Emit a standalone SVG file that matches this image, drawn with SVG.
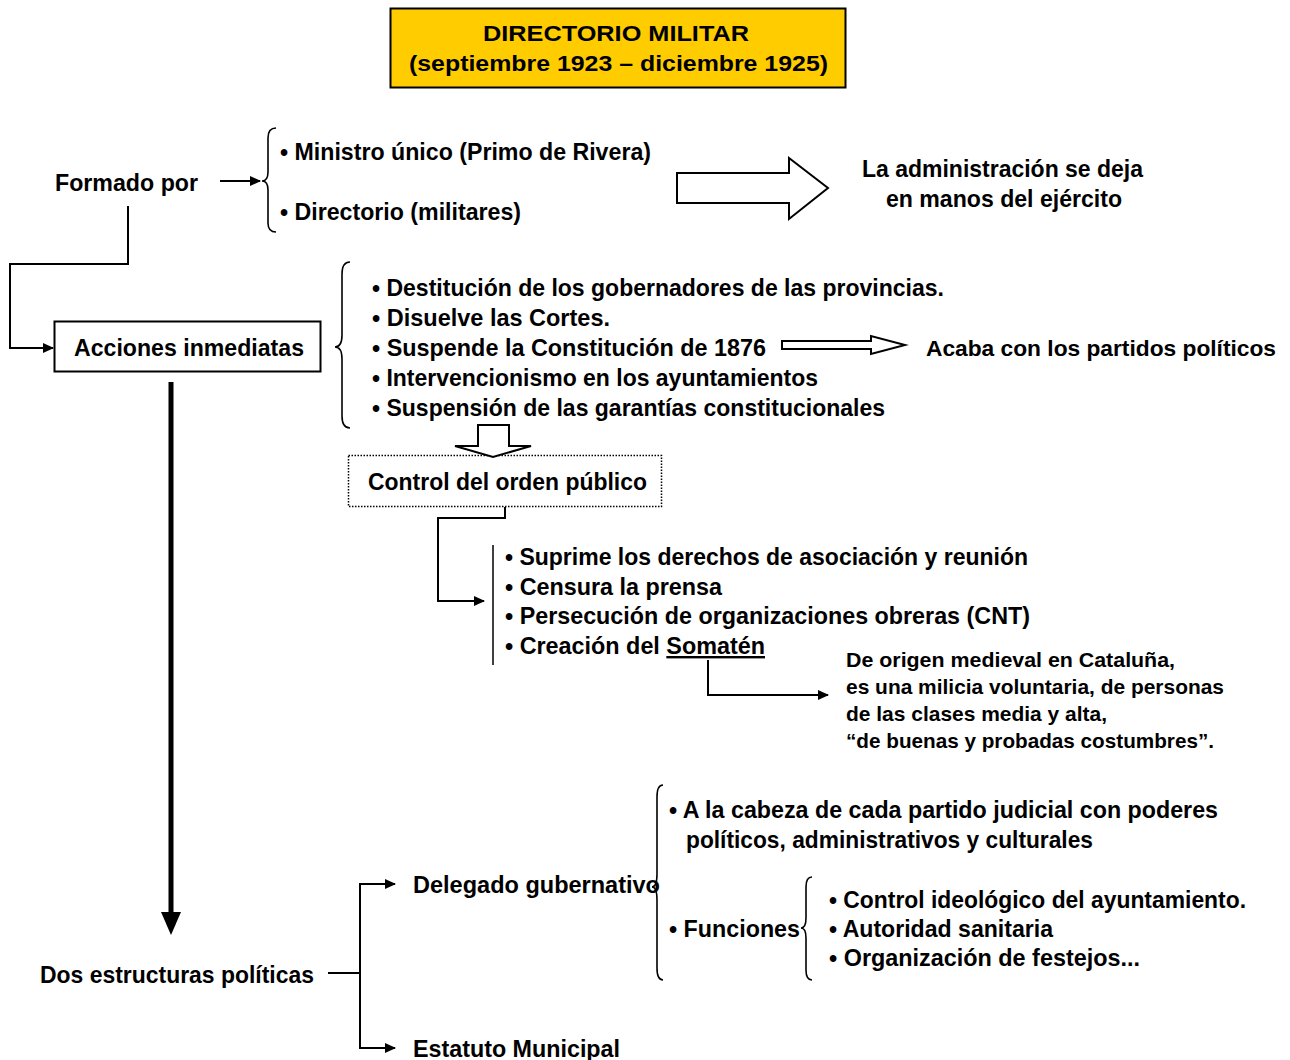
<svg xmlns="http://www.w3.org/2000/svg" width="1290" height="1060" viewBox="0 0 1290 1060">
<style>
text{font-family:"Liberation Sans",Arial,sans-serif;font-weight:bold;fill:#000}
.t{font-size:24px}
.s{font-size:21px}
.h{font-size:22px}
.ln{fill:none;stroke:#000;stroke-width:2}
.br{fill:none;stroke:#000;stroke-width:1.6}
.blk{fill:#fff;stroke:#000;stroke-width:2;stroke-linejoin:miter}
</style>
<defs>
<marker id="ah" markerUnits="userSpaceOnUse" markerWidth="12" markerHeight="12" refX="10" refY="6" orient="auto">
<path d="M0,1 L11,6 L0,11 Z" fill="#000"/>
</marker>
</defs>
<rect width="1290" height="1060" fill="#fff"/>

<g id="title">
<rect x="390.5" y="8.5" width="455" height="79" fill="#FFCC00" stroke="#000" stroke-width="2"/>
<text class="h" x="483" y="41" textLength="266" lengthAdjust="spacingAndGlyphs">DIRECTORIO MILITAR</text>
<text class="h" x="409" y="71" textLength="419" lengthAdjust="spacingAndGlyphs">(septiembre 1923 – diciembre 1925)</text>
</g>

<g id="formado">
<text class="t" x="55" y="191" textLength="143" lengthAdjust="spacingAndGlyphs">Formado por</text>
</g>

<g id="formado-items">
<path class="br" d="M276,128 Q268,128 268,138 L268,172 Q268,181 262,181 Q268,181 268,190 L268,223 Q268,232 276,232"/>
<text class="t" x="280" y="160" textLength="371" lengthAdjust="spacingAndGlyphs">• Ministro único (Primo de Rivera)</text>
<text class="t" x="280" y="220" textLength="241" lengthAdjust="spacingAndGlyphs">• Directorio (militares)</text>
</g>

<g id="administracion">
<text class="t" x="862" y="177" textLength="281" lengthAdjust="spacingAndGlyphs">La administración se deja</text>
<text class="t" x="886" y="207" textLength="236" lengthAdjust="spacingAndGlyphs">en manos del ejército</text>
</g>

<g id="acciones">
<rect x="54.5" y="321.5" width="266" height="50" fill="#fff" stroke="#000" stroke-width="2"/>
<text class="t" x="74" y="356" textLength="230" lengthAdjust="spacingAndGlyphs">Acciones inmediatas</text>
</g>

<g id="acciones-items">
<path class="br" d="M350,262 Q342,262 342,274 L342,335 Q342,347 335,347 Q342,347 342,359 L342,416 Q342,428 350,428"/>
<text class="t" x="372" y="296" textLength="572" lengthAdjust="spacingAndGlyphs">• Destitución de los gobernadores de las provincias.</text>
<text class="t" x="372" y="326" textLength="238" lengthAdjust="spacingAndGlyphs">• Disuelve las Cortes.</text>
<text class="t" x="372" y="356" textLength="394" lengthAdjust="spacingAndGlyphs">• Suspende la Constitución de 1876</text>
<text class="t" x="372" y="386" textLength="446" lengthAdjust="spacingAndGlyphs">• Intervencionismo en los ayuntamientos</text>
<text class="t" x="372" y="416" textLength="513" lengthAdjust="spacingAndGlyphs">• Suspensión de las garantías constitucionales</text>
</g>

<g id="partidos">
<text x="926" y="356" style="font-size:22.6px" textLength="350" lengthAdjust="spacingAndGlyphs">Acaba con los partidos políticos</text>
</g>

<g id="orden">
<rect x="348.5" y="455.5" width="313" height="51" fill="#fff" stroke="#000" stroke-width="1.5" stroke-dasharray="1.5,1.5"/>
<text class="t" x="368" y="490" textLength="279" lengthAdjust="spacingAndGlyphs">Control del orden público</text>
</g>

<g id="orden-items">
<line x1="493" y1="545" x2="493" y2="665" stroke="#000" stroke-width="1.5"/>
<text class="t" x="505" y="565" textLength="523" lengthAdjust="spacingAndGlyphs">• Suprime los derechos de asociación y reunión</text>
<text class="t" x="505" y="595" textLength="217" lengthAdjust="spacingAndGlyphs">• Censura la prensa</text>
<text class="t" x="505" y="624" textLength="525" lengthAdjust="spacingAndGlyphs">• Persecución de organizaciones obreras (CNT)</text>
<text class="t" x="505" y="654" textLength="260" lengthAdjust="spacingAndGlyphs">• Creación del <tspan text-decoration="underline">Somatén</tspan></text>
</g>

<g id="somaten">
<text class="s" x="846" y="667" textLength="329" lengthAdjust="spacingAndGlyphs">De origen medieval en Cataluña,</text>
<text class="s" x="846" y="694" textLength="378" lengthAdjust="spacingAndGlyphs">es una milicia voluntaria, de personas</text>
<text class="s" x="846" y="721" textLength="261" lengthAdjust="spacingAndGlyphs">de las clases media y alta,</text>
<text class="s" x="846" y="748" textLength="368" lengthAdjust="spacingAndGlyphs">“de buenas y probadas costumbres”.</text>
</g>

<g id="dos">
<text class="t" x="40" y="983" textLength="274" lengthAdjust="spacingAndGlyphs">Dos estructuras políticas</text>
</g>

<g id="delegado">
<text class="t" x="413" y="893" textLength="247" lengthAdjust="spacingAndGlyphs">Delegado gubernativo</text>
</g>

<g id="delegado-items">
<path class="br" d="M663,785 Q657,785 657,797 L657,874 Q657,887 652,887 Q657,887 657,900 L657,968 Q657,980 663,980"/>
<text class="t" x="669" y="818" textLength="549" lengthAdjust="spacingAndGlyphs">• A la cabeza de cada partido judicial con poderes</text>
<text class="t" x="686" y="848" textLength="407" lengthAdjust="spacingAndGlyphs">políticos, administrativos y culturales</text>
<text class="t" x="669" y="937" textLength="131" lengthAdjust="spacingAndGlyphs">• Funciones</text>
</g>

<g id="funciones-items">
<path class="br" d="M812,877 Q806,877 806,887 L806,918 Q806,928 801,928 Q806,928 806,938 L806,970 Q806,980 812,980"/>
<text class="t" x="829" y="908" textLength="417" lengthAdjust="spacingAndGlyphs">• Control ideológico del ayuntamiento.</text>
<text class="t" x="829" y="937" textLength="224" lengthAdjust="spacingAndGlyphs">• Autoridad sanitaria</text>
<text class="t" x="829" y="966" textLength="311" lengthAdjust="spacingAndGlyphs">• Organización de festejos...</text>
</g>

<g id="estatuto">
<text class="t" x="413" y="1057" textLength="207" lengthAdjust="spacingAndGlyphs">Estatuto Municipal</text>
</g>

<g id="connectors">
<line class="ln" x1="220" y1="181" x2="260" y2="181" marker-end="url(#ah)"/>
<polyline class="ln" points="128,206 128,264 10,264 10,348 53,348" marker-end="url(#ah)"/>
<polygon class="blk" points="677,173 789,173 789,158 828,188 789,219 789,203 677,203"/>
<polygon class="blk" points="782,341 871,341 871,336 905,345 871,354 871,349 782,349" stroke-width="1.6"/>
<polygon class="blk" points="478,425 509,425 509,446 531,446 493,457 455,446 478,446"/>
<polyline class="ln" points="505,507 505,518 438,518 438,601 484,601" marker-end="url(#ah)"/>
<polyline class="ln" points="708,660 708,695 828,695" marker-end="url(#ah)"/>
<line x1="171" y1="382" x2="171" y2="914" stroke="#000" stroke-width="5"/>
<polygon points="161,912 181,912 171,935" fill="#000"/>
<line class="ln" x1="328" y1="973" x2="360" y2="973"/>
<polyline class="ln" points="360,973 360,884 395,884" marker-end="url(#ah)"/>
<polyline class="ln" points="360,973 360,1048 395,1048" marker-end="url(#ah)"/>
</g>
</svg>
